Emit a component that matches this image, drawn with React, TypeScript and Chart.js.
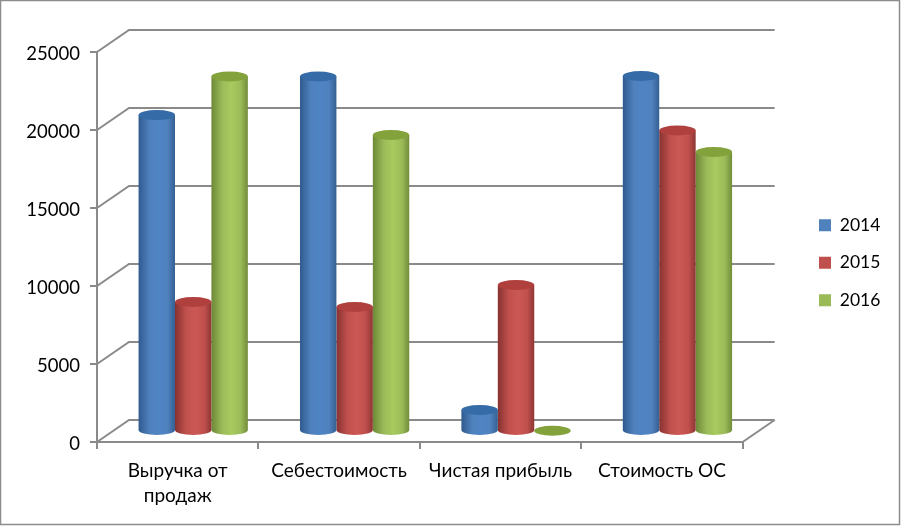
import React, { useEffect, useRef } from "react";
import { Chart, registerables } from "chart.js";

Chart.register(...registerables);

const categories = [["Выручка от", "продаж"], "Себестоимость", "Чистая прибыль", "Стоимость ОС"];
const seriesNames = ["2014", "2015", "2016"];
const values2014 = [20250, 22720, 1350, 22760];
const values2015 = [8270, 7950, 9360, 19260];
const values2016 = [22720, 18970, 20, 17880];
const yTicks = [0, 5000, 10000, 15000, 20000, 25000];

const FONT = "Lato, 'Noto Sans', sans-serif";
const LINE = "#8a8a8a";
const DX = 15.5;
const DY = -11;
const WALL_X = 32;
const WALL_Y = -22;

const palettes = [
  { fill: "#4f81bd", edgeL: "#2f5a8e", mid: "#4f84c4", edgeR: "#345f92", top: "#356ba6" },
  { fill: "#c0504d", edgeL: "#873230", mid: "#cc5855", edgeR: "#8e3634", top: "#b0403d" },
  { fill: "#9bbb59", edgeL: "#6d8837", mid: "#a8ca5e", edgeR: "#728d3a", top: "#84a23c" },
];

const cylinderPlugin = {
  id: "cylinder",
  beforeDraw(chart: any) {
    const { ctx, width, height } = chart;
    ctx.save();
    ctx.fillStyle = "#ffffff";
    ctx.fillRect(0, 0, width, height);
    ctx.strokeStyle = "#8c8c8c";
    ctx.lineWidth = 1.5;
    ctx.strokeRect(0.5, 0.5, width - 2, height - 2);
    ctx.restore();
  },
  afterLayout(chart: any) {
    const lg = chart.legend;
    lg.left = 799;
    lg.right = 901;
    lg.top = 196.5;
    lg.bottom = 330;
  },
  beforeDatasetsDraw(chart: any) {
    const { ctx, chartArea, scales } = chart;
    const { left, right, bottom } = chartArea;
    ctx.save();
    ctx.strokeStyle = LINE;
    ctx.lineWidth = 2;
    ctx.beginPath();
    yTicks.forEach((v) => {
      const y = scales.y.getPixelForValue(v);
      ctx.moveTo(left, y);
      ctx.lineTo(left + WALL_X, y + WALL_Y);
      ctx.lineTo(right + WALL_X, y + WALL_Y);
    });
    ctx.moveTo(right, bottom);
    ctx.lineTo(right + WALL_X, bottom + WALL_Y);
    ctx.stroke();
    ctx.restore();
  },
  beforeDatasetDraw(chart: any, args: any) {
    const { ctx } = chart;
    const meta = args.meta;
    const p = palettes[args.index];
    meta.data.forEach((el: any) => {
      const cx = el.x + DX;
      const rx = el.width / 2;
      const ry = 5;
      const yTop = el.y + DY;
      const yBase = el.base + DY;
      ctx.save();
      const g = ctx.createLinearGradient(cx - rx, 0, cx + rx, 0);
      g.addColorStop(0, p.edgeL);
      g.addColorStop(0.3, p.fill);
      g.addColorStop(0.55, p.mid);
      g.addColorStop(0.8, p.fill);
      g.addColorStop(1, p.edgeR);
      ctx.fillStyle = g;
      ctx.beginPath();
      ctx.moveTo(cx - rx, yTop);
      ctx.lineTo(cx - rx, yBase);
      ctx.ellipse(cx, yBase, rx, ry, 0, Math.PI, 0, true);
      ctx.lineTo(cx + rx, yTop);
      ctx.closePath();
      ctx.fill();
      ctx.fillStyle = p.top;
      ctx.beginPath();
      ctx.ellipse(cx, yTop, rx, ry, 0, 0, Math.PI * 2);
      ctx.fill();
      ctx.restore();
    });
    return false;
  },
};

export default function App() {
  const ref = useRef<HTMLCanvasElement | null>(null);
  useEffect(() => {
    document.body.style.margin = "0";
    const chart = new Chart(ref.current as HTMLCanvasElement, {
      type: "bar",
      data: {
        labels: categories as any,
        datasets: [values2014, values2015, values2016].map((data, i) => ({
          label: seriesNames[i],
          data,
          backgroundColor: palettes[i].fill,
          categoryPercentage: 0.677,
          barPercentage: 1,
        })),
      },
      options: {
        responsive: false,
        animation: false,
        devicePixelRatio: 1,
        layout: { padding: { top: 52, right: 67, bottom: 0, left: 0 } },
        plugins: {
          title: { display: false },
          tooltip: { enabled: false },
          legend: {
            position: "right",
            align: "start",
            labels: {
              boxWidth: 12,
              boxHeight: 12,
              padding: 20,
              color: "#000",
              font: { family: FONT, size: 17.5 },
            },
          },
        },
        scales: {
          x: {
            afterFit: (s: any) => { s.height = 84; },
            border: { color: LINE, width: 2 },
            grid: { display: true, drawOnChartArea: false, color: LINE, lineWidth: 2, tickLength: 7 },
            ticks: { color: "#000", padding: 9, maxRotation: 0, font: { family: FONT, size: 19, lineHeight: 1.32 } },
          },
          y: {
            min: 0,
            max: 25000,
            afterFit: (s: any) => { s.width = 97; },
            afterBuildTicks: (s: any) => { s.ticks = yTicks.map((value) => ({ value })); },
            border: { color: LINE, width: 2 },
            grid: { display: true, drawOnChartArea: false, color: LINE, lineWidth: 2, tickLength: 7 },
            ticks: {
              color: "#000",
              padding: 10,
              labelOffset: 2,
              font: { family: FONT, size: 18.5 },
              callback: (v: any) => String(v),
            },
          },
        },
      },
      plugins: [cylinderPlugin],
    } as any);
    return () => chart.destroy();
  }, []);
  return <canvas ref={ref} width={901} height={526} style={{ display: "block", width: 901, height: 526 }} />;
}
